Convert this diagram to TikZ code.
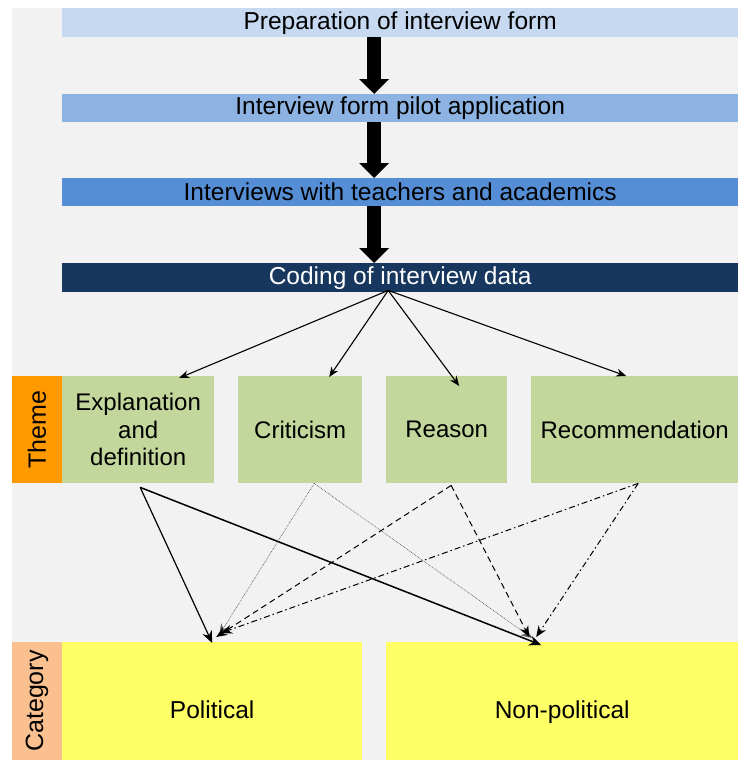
\documentclass[tikz,border=0pt]{standalone}
\usepackage{fontspec}
\setmainfont{Liberation Sans}
\usetikzlibrary{arrows.meta}
\definecolor{bggray}{HTML}{F2F2F2}
\definecolor{barA}{HTML}{C6D9F1}
\definecolor{barB}{HTML}{8DB3E2}
\definecolor{barC}{HTML}{558ED5}
\definecolor{barD}{HTML}{17375E}
\definecolor{themegreen}{HTML}{C3D69B}
\definecolor{themeorange}{HTML}{FF9900}
\definecolor{catpeach}{HTML}{FAC090}
\definecolor{catyellow}{HTML}{FFFF66}
\tikzset{
  bar/.style={anchor=north west, inner sep=0pt, minimum width=676pt, font=\fontsize{24.5}{27}\selectfont},
  themebox/.style={anchor=north west, inner sep=0pt, minimum height=107pt, fill=themegreen, align=center, font=\fontsize{24}{27.5}\selectfont},
  catbox/.style={anchor=north west, inner sep=0pt, minimum height=118pt, fill=catyellow, text height=34pt, text depth=0pt, font=\fontsize{24.5}{28}\selectfont},
  sidelabel/.style={rotate=90, inner sep=0pt, minimum height=50pt, font=\fontsize{25}{28}\selectfont},
  bigarrow/.style={line width=14pt, -{Triangle[width=29pt,length=15pt]}},
  fanarrow/.style={line width=1.1pt, -{Stealth[length=10pt,width=8pt]}},
  lowsolid/.style={line width=1.2pt, -{Stealth[length=12pt,width=10pt]}},
  lowthin/.style={line width=0.7pt, gray!70!black, densely dotted, -{Stealth[length=11pt,width=9pt]}},
  lowdashed/.style={line width=1pt, dash pattern=on 6pt off 4pt, -{Stealth[length=11pt,width=9pt]}},
  lowdashdot/.style={line width=1pt, dash pattern=on 6pt off 3pt on 1.5pt off 3pt, -{Stealth[length=11pt,width=9pt]}}
}
\begin{document}
\begin{tikzpicture}[x=1pt,y=-1pt]
\useasboundingbox (0,0) rectangle (738,760);
\fill[bggray] (12,8) rectangle (738,760);

% process bars
\node[bar, fill=barA, minimum height=29pt] (b1) at (62,8) {Preparation of interview form};
\node[bar, fill=barB, minimum height=28pt] (b2) at (62,94) {Interview form pilot application};
\node[bar, fill=barC, minimum height=28pt] (b3) at (62,178) {Interviews with teachers and academics};
\node[bar, fill=barD, minimum height=29pt, text=white] (b4) at (62,263) {Coding of interview data};

\draw[bigarrow] ([xshift=-26pt]b1.south) -- ([xshift=-26pt]b2.north);
\draw[bigarrow] ([xshift=-26pt]b2.south) -- ([xshift=-26pt]b3.north);
\draw[bigarrow] ([xshift=-26pt]b3.south) -- ([xshift=-26pt]b4.north);

% theme row
\node[sidelabel, fill=themeorange, minimum width=107pt] (th) at (37,429.5) {Theme};
\node[themebox, minimum width=152pt] (t1) at (62,376) {Explanation\\and\\definition};
\node[themebox, minimum width=124pt] (t2) at (238,376) {Criticism};
\node[themebox, minimum width=121pt] (t3) at (386,376) {Reason};
\node[themebox, minimum width=207pt] (t4) at (531,376) {Recommendation};

\coordinate (fan) at ([xshift=-12pt,yshift=2pt]b4.south);
\draw[fanarrow] (fan) -- ([xshift=41pt,yshift=-2pt]t1.north);
\draw[fanarrow] (fan) -- ([xshift=29pt,yshift=-1pt]t2.north);
\draw[fanarrow] (fan) -- ([xshift=12.5pt,yshift=-10pt]t3.north);
\draw[fanarrow] (fan) -- ([xshift=-8.5pt]t4.north);

% category row
\node[sidelabel, fill=catpeach, minimum width=118pt] (ca) at (37,701) {Category};
\node[catbox, minimum width=300pt] (p) at (62,642) {Political};
\node[catbox, minimum width=352pt] (np) at (386,642) {Non-political};

\coordinate (s1) at ([xshift=2pt,yshift=-4pt]t1.south);
\coordinate (s2) at ([xshift=14pt]t2.south);
\coordinate (s3) at ([xshift=4.5pt,yshift=-2pt]t3.south);
\coordinate (s4) at ([xshift=3.5pt]t4.south);

\draw[lowsolid] (s1) -- ([yshift=-1pt]p.north);
\draw[lowsolid, line width=1.5pt] (s1) -- ([xshift=-21pt,yshift=-3pt]np.north);
\draw[lowthin] (s2) -- ([xshift=7pt,yshift=7pt]p.north);
\draw[lowthin] (s2) -- ([xshift=-30pt,yshift=4pt]np.north);
\draw[lowdashed] (s3) -- ([xshift=4pt,yshift=5pt]p.north);
\draw[lowdashed] (s3) -- ([xshift=-33pt,yshift=5pt]np.north);
\draw[lowdashdot] (s4) -- ([xshift=9pt,yshift=9pt]p.north);
\draw[lowdashdot] (s4) -- ([xshift=-26pt,yshift=5pt]np.north);
\end{tikzpicture}
\end{document}
